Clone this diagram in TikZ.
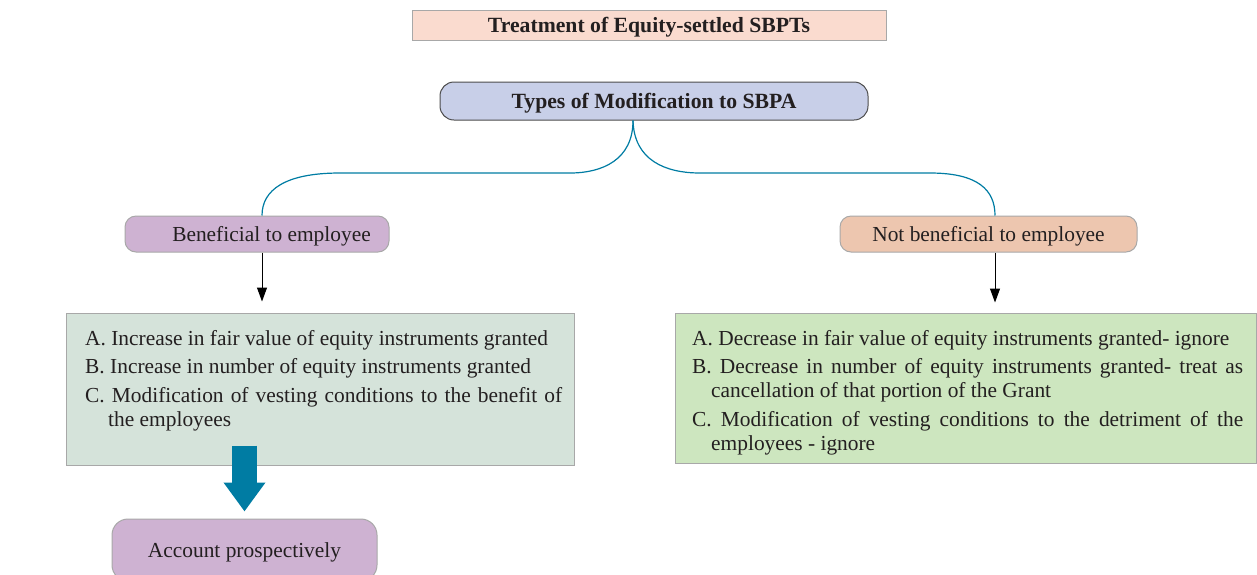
\documentclass[tikz,border=0pt]{standalone}
\usepackage{fontspec}
\setmainfont{Liberation Serif}
\usetikzlibrary{arrows.meta}
\definecolor{txt}{HTML}{231F20}
\definecolor{titlefill}{HTML}{FADBCF}
\definecolor{typesfill}{HTML}{C8CFE8}
\definecolor{benfill}{HTML}{CEB2D2}
\definecolor{nbfill}{HTML}{EDC6AF}
\definecolor{lfill}{HTML}{D5E3DA}
\definecolor{rfill}{HTML}{CDE6BF}
\definecolor{tealc}{HTML}{007CA3}
\definecolor{boxline}{HTML}{A8A8A8}
\tikzset{
  base/.style={text=txt, font=\fontsize{21.4}{24}\selectfont, inner sep=0pt},
  oneline/.style={text height=14pt, text depth=0pt},
  titlebox/.style={base, oneline, draw=boxline, line width=1pt, fill=titlefill, font=\fontsize{21.7}{24}\selectfont\bfseries},
  typesbox/.style={base, oneline, draw=black!70, line width=1pt, fill=typesfill, rounded corners=14pt, font=\fontsize{21.7}{24}\selectfont\bfseries},
  pillbox/.style={base, oneline, draw=boxline, line width=1pt, rounded corners=11pt},
  greenbox/.style={draw=boxline, line width=1pt},
  listtext/.style={base, anchor=north west},
  blackarrow/.style={draw=black, line width=1pt, -{Triangle[length=14pt,width=10pt]}},
  tealarrow/.style={draw=tealc, line width=25pt, -{Triangle[length=29pt,width=40pt]}},
  curve/.style={draw=tealc, line width=1.2pt},
}
\newcommand{\itm}[2]{\hangindent=#1\hangafter=1\noindent #2\par}
\begin{document}
\begin{tikzpicture}[x=1pt,y=-1pt]
\useasboundingbox (0,0) rectangle (1257,574);
% boxes
\node[titlebox, minimum width=474pt, minimum height=30pt] (title) at (649,25) {Treatment of Equity-settled SBPTs};
\node[typesbox, minimum width=428pt, minimum height=38pt] (types) at (654,101) {Types of Modification to SBPA};
\node[pillbox, fill=benfill, minimum width=264pt, minimum height=36pt] (ben) at (257,234) {\hspace*{29pt}Beneficial to employee};
\node[pillbox, fill=nbfill, minimum width=297pt, minimum height=36pt] (nb) at (988.5,234) {Not beneficial to employee};
\node[greenbox, fill=lfill, minimum width=508pt, minimum height=152pt] (lbox) at (320,389) {};
\node[greenbox, fill=rfill, minimum width=581pt, minimum height=150pt] (rbox) at (965.5,388) {};
\node[pillbox, fill=benfill, rounded corners=16pt, minimum width=265pt, minimum height=62pt] (acc) at (244.5,550) {Account prospectively};
% list texts
\node[listtext] (ltext) at (85,330) {\parbox[t]{477pt}{\hyphenpenalty=10000\parskip=4.5pt\parindent=0pt
\itm{23pt}{A. Increase in fair value of equity instruments granted}
\itm{23pt}{B. Increase in number of equity instruments granted}
\itm{23pt}{C. Modification of vesting conditions to the benefit of\linebreak the employees}}};
\node[listtext] (rtext) at (692,330) {\parbox[t]{551pt}{\hyphenpenalty=10000\parskip=4.5pt\parindent=0pt\hbadness=10000\hfuzz=20pt
\itm{19pt}{A. Decrease in fair value of equity instruments granted- ignore}
\itm{19pt}{B. Decrease in number of equity instruments granted- treat as\linebreak cancellation of that portion of the Grant}
\itm{19pt}{C. Modification of vesting conditions to the detriment of the\linebreak employees - ignore}}};
% curves
\coordinate (lc1) at (570,173);
\coordinate (lc2) at (340,173);
\coordinate (rc1) at (700,173);
\coordinate (rc2) at (930,173);
\draw[curve] ([xshift=-21pt]types.south) .. controls (633,160) and (602,173) .. (lc1) -- (lc2) .. controls (285,173) and (262,190) .. ([xshift=5pt]ben.north);
\draw[curve] ([xshift=-21pt]types.south) .. controls (634,160) and (665,173) .. (rc1) -- (rc2) .. controls (978,173) and (995,190) .. ([xshift=6.5pt]nb.north);
% arrows
\draw[blackarrow, shorten >=11pt] ([xshift=5pt]ben.south) -- ([xshift=5pt]ben.south |- lbox.north);
\draw[blackarrow, shorten >=10pt] ([xshift=6.5pt]nb.south) -- ([xshift=6.5pt]nb.south |- rbox.north);
\draw[tealarrow, shorten >=7pt] ([yshift=20pt]lbox.south -| acc.north) -- (acc.north);
\end{tikzpicture}
\end{document}
